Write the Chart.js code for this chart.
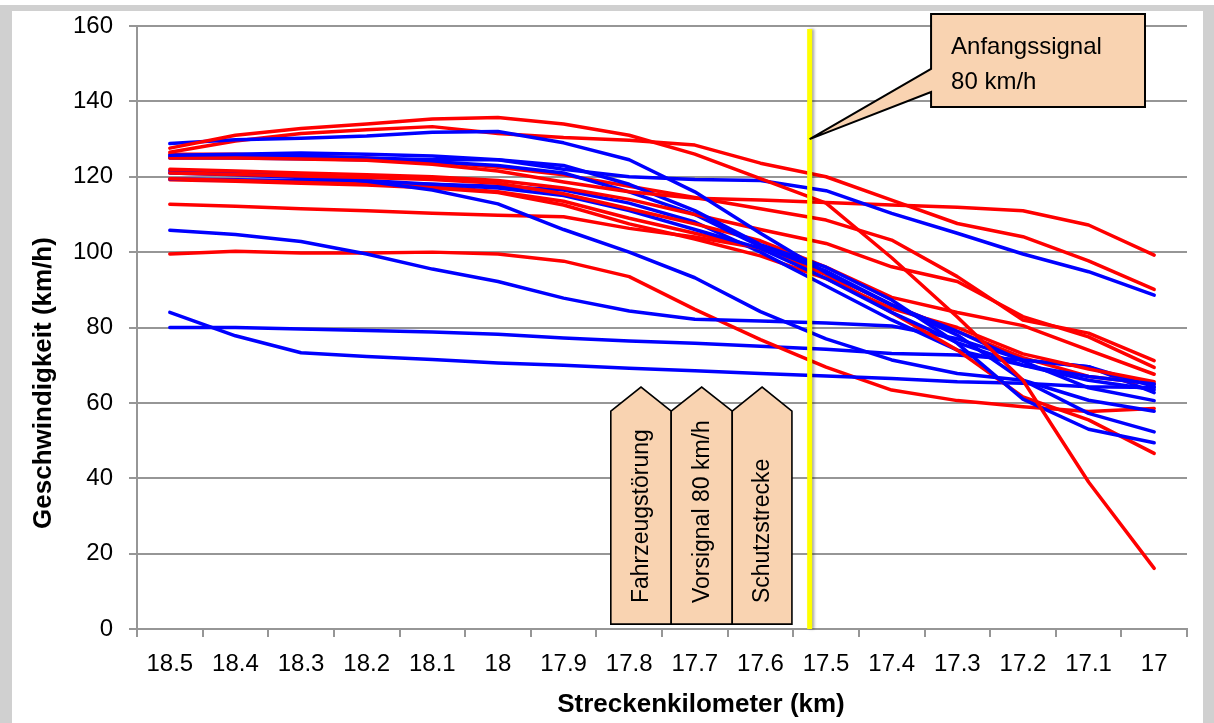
<!DOCTYPE html>
<html>
<head>
<meta charset="utf-8">
<title>Geschwindigkeitsverläufe</title>
<script src="https://cdn.jsdelivr.net/npm/chart.js@4.4.1/dist/chart.umd.min.js"></script>
<style>
  html, body { margin: 0; padding: 0; background: #ffffff; }
  canvas { display: block; }
</style>
</head>
<body>
<canvas id="chart" width="1214" height="723"></canvas>
<script>
// Streckenkilometer (categories)
const kmLabels = ['18.5', '18.4', '18.3', '18.2', '18.1', '18', '17.9', '17.8',
                  '17.7', '17.6', '17.5', '17.4', '17.3', '17.2', '17.1', '17'];

// Speed axis (km/h)
const speedMin = 0;
const speedMax = 160;
const speedStep = 20;

// Axis titles
const xTitle = 'Streckenkilometer (km)';
const yTitle = 'Geschwindigkeit (km/h)';

// Speed profiles, km/h per kilometre post – red runs
const red1  = [127.6, 131.0, 132.8, 134.0, 135.3, 135.7, 134.0, 131.0, 126.0, 119.5, 113.0, 98.5, 82.8, 66.0, 39.0, 16.1];
const red2  = [126.5, 129.5, 131.5, 132.5, 133.3, 131.5, 130.4, 129.7, 128.4, 123.6, 120.0, 113.8, 107.6, 104.1, 97.7, 90.1];
const red3  = [125.0, 125.0, 124.7, 124.4, 123.3, 121.5, 118.6, 116.0, 114.3, 113.8, 113.2, 112.5, 111.9, 111.0, 107.2, 99.2];
const red4  = [122.0, 121.5, 121.0, 120.5, 120.0, 119.0, 117.0, 114.0, 110.0, 106.0, 102.3, 96.1, 92.2, 82.9, 77.5, 69.4];
const red5  = [121.0, 120.6, 120.2, 119.8, 119.3, 118.3, 115.5, 111.5, 107.5, 103.0, 96.0, 88.0, 84.0, 80.5, 74.0, 67.6];
const red6  = [126.0, 126.0, 125.5, 125.0, 124.0, 122.5, 120.5, 117.5, 114.5, 111.5, 108.5, 103.2, 93.5, 82.0, 78.5, 71.2];
const red7  = [119.5, 119.0, 118.5, 118.0, 117.5, 116.0, 113.5, 109.0, 105.0, 101.0, 94.0, 84.0, 74.0, 61.6, 55.5, 46.6];
const red8  = [119.2, 118.8, 118.3, 117.8, 117.0, 115.8, 112.5, 107.5, 103.5, 99.0, 93.0, 85.0, 80.0, 73.0, 69.0, 65.6];
const red9  = [112.7, 112.2, 111.5, 111.0, 110.3, 109.8, 109.4, 106.3, 104.0, 101.0, 94.4, 86.0, 79.0, 72.0, 67.0, 65.0];
const red10 = [99.5, 100.2, 99.8, 99.8, 100.0, 99.5, 97.6, 93.5, 84.8, 76.8, 69.5, 63.4, 60.6, 59.0, 57.7, 58.5];

// Speed profiles – blue runs
const blue1  = [128.8, 129.8, 130.2, 130.8, 131.8, 132.0, 129.0, 124.5, 116.0, 105.0, 94.5, 86.0, 79.0, 71.0, 64.0, 60.6];
const blue2  = [125.7, 126.0, 126.3, 126.0, 125.5, 124.5, 122.0, 120.0, 119.3, 119.0, 116.3, 110.3, 105.0, 99.5, 94.8, 88.6];
const blue3  = [125.3, 125.5, 125.5, 125.0, 124.5, 124.5, 123.0, 118.0, 111.0, 102.0, 96.0, 87.3, 75.8, 61.0, 53.0, 49.4];
const blue4  = [125.0, 125.0, 124.8, 124.5, 124.0, 123.0, 121.0, 116.0, 110.0, 101.5, 95.0, 86.0, 78.0, 66.0, 57.2, 52.3];
const blue5  = [121.6, 121.0, 120.3, 118.8, 116.5, 112.8, 106.0, 100.0, 93.2, 84.2, 77.0, 71.4, 67.8, 66.0, 60.7, 57.8];
const blue6  = [121.0, 120.5, 119.8, 119.0, 118.0, 117.0, 115.0, 111.0, 106.0, 101.0, 93.0, 84.0, 76.0, 70.0, 66.0, 63.5];
const blue7  = [119.4, 119.2, 119.0, 118.5, 118.0, 117.5, 116.5, 113.0, 108.0, 100.0, 91.0, 82.0, 74.0, 70.0, 67.0, 65.0];
const blue8  = [105.8, 104.7, 102.8, 99.5, 95.5, 92.2, 87.8, 84.4, 82.2, 81.7, 81.2, 80.4, 77.0, 71.4, 69.6, 64.3];
const blue9  = [84.0, 77.8, 73.3, 72.3, 71.5, 70.6, 70.0, 69.2, 68.5, 67.8, 67.1, 66.5, 65.6, 65.2, 64.3, 64.1];
const blue10 = [80.0, 80.0, 79.6, 79.2, 78.8, 78.2, 77.2, 76.4, 75.8, 75.0, 74.2, 73.1, 72.7, 71.4, 69.6, 62.7];

const redRuns  = [red1, red2, red3, red4, red5, red6, red7, red8, red9, red10];
const blueRuns = [blue1, blue2, blue3, blue4, blue5, blue6, blue7, blue8, blue9, blue10];

// Track features (km positions and speed levels in km/h)
const signalKm = 17.525;                       // Anfangssignal 80 km/h
const signalTopKmh = 159.2;
const markerEdgesKm = [17.828, 17.736, 17.643, 17.552];
const markerTexts = ['Fahrzeugstörung', 'Vorsignal 80 km/h', 'Schutzstrecke'];
const markerBaseKmh = 1.3, markerShoulderKmh = 57.8, markerApexKmh = 64.2;
const calloutLines = ['Anfangssignal', '80 km/h'];
const calloutKm = [17.34, 17.014];             // left, right
const calloutKmh = [163.2, 138.5];             // top, bottom
const calloutPointerKmh = [148.6, 142.5, 130.0]; // base upper, base lower, tip

const FONT = "'Liberation Sans', Arial, Helvetica, sans-serif";
const PEACH = '#F9D3B1';
const GRID = '#969696';

function kmToIndex(km) { return (18.5 - km) / 0.1; }

const datasets = [];
for (let i = 0; i < 10; i++) {
  datasets.push({ label: 'rot ' + (i + 1), data: redRuns[i], borderColor: '#FF0000' });
  datasets.push({ label: 'blau ' + (i + 1), data: blueRuns[i], borderColor: '#0000FF' });
}
datasets.forEach(d => {
  d.borderWidth = 3.5;
  d.pointRadius = 0;
  d.fill = false;
  d.tension = 0;
  d.borderJoinStyle = 'round';
  d.borderCapStyle = 'round';
});

// Light grey frame round the whole picture
const framePlugin = {
  id: 'frame',
  beforeDraw(chart) {
    const { ctx, width, height } = chart;
    ctx.save();
    ctx.fillStyle = '#ffffff';
    ctx.fillRect(0, 0, width, height);
    ctx.fillStyle = '#D0D0D0';
    ctx.fillRect(0, 5, width, 6);
    ctx.fillRect(0, 5, 12, height - 5);
    ctx.fillRect(width - 11, 5, 11, height - 5);
    ctx.restore();
  }
};

// Axis titles, placed relative to the plot area
const titlePlugin = {
  id: 'axisTitles',
  afterDraw(chart) {
    const { ctx, chartArea } = chart;
    ctx.save();
    ctx.fillStyle = '#000000';
    ctx.font = 'bold 26px ' + FONT;
    ctx.textAlign = 'center';
    ctx.textBaseline = 'middle';
    ctx.fillText(xTitle, chartArea.left + 564, chartArea.bottom + 76);
    ctx.translate(44, chartArea.top + 357);
    ctx.rotate(-Math.PI / 2);
    ctx.fillText(yTitle, 0, 0);
    ctx.restore();
  }
};

// Signal line, callout and section markers
const trackPlugin = {
  id: 'track',
  afterDatasetsDraw(chart) {
    const { ctx } = chart;
    const xs = chart.scales.x, ys = chart.scales.y;
    const px = km => xs.getPixelForValue(kmToIndex(km));
    const py = v => ys.getPixelForValue(v);

    // section markers (upward arrows)
    ctx.save();
    ctx.lineWidth = 1.6;
    ctx.strokeStyle = '#000000';
    ctx.lineJoin = 'miter';
    for (let i = 0; i < markerTexts.length; i++) {
      const l = px(markerEdgesKm[i]), r = px(markerEdgesKm[i + 1]);
      const c = (l + r) / 2;
      const b = py(markerBaseKmh), s = py(markerShoulderKmh), a = py(markerApexKmh);
      ctx.beginPath();
      ctx.moveTo(l, b);
      ctx.lineTo(l, s);
      ctx.lineTo(c, a);
      ctx.lineTo(r, s);
      ctx.lineTo(r, b);
      ctx.closePath();
      ctx.fillStyle = PEACH;
      ctx.fill();
      ctx.stroke();
      ctx.save();
      ctx.translate(c, b - 21);
      ctx.rotate(-Math.PI / 2);
      ctx.fillStyle = '#000000';
      ctx.font = '23px ' + FONT;
      ctx.textAlign = 'left';
      ctx.textBaseline = 'middle';
      ctx.fillText(markerTexts[i], 0, 1);
      ctx.restore();
    }
    ctx.restore();

    // signal line
    ctx.save();
    const sx = px(signalKm);
    ctx.strokeStyle = '#FFFF00';
    ctx.lineWidth = 5;
    ctx.shadowColor = 'rgba(0,0,0,0.35)';
    ctx.shadowBlur = 3;
    ctx.shadowOffsetX = 2;
    ctx.beginPath();
    ctx.moveTo(sx, py(0));
    ctx.lineTo(sx, py(signalTopKmh));
    ctx.stroke();
    ctx.restore();

    // callout
    ctx.save();
    const L = px(calloutKm[0]), R = px(calloutKm[1]);
    const T = py(calloutKmh[0]), B = py(calloutKmh[1]);
    ctx.beginPath();
    ctx.moveTo(L, T);
    ctx.lineTo(R, T);
    ctx.lineTo(R, B);
    ctx.lineTo(L, B);
    ctx.lineTo(L, py(calloutPointerKmh[1]));
    ctx.lineTo(sx, py(calloutPointerKmh[2]));
    ctx.lineTo(L, py(calloutPointerKmh[0]));
    ctx.closePath();
    ctx.fillStyle = PEACH;
    ctx.fill();
    ctx.lineWidth = 2;
    ctx.strokeStyle = '#000000';
    ctx.lineJoin = 'miter';
    ctx.stroke();
    ctx.fillStyle = '#000000';
    ctx.font = '24px ' + FONT;
    ctx.textAlign = 'left';
    ctx.textBaseline = 'alphabetic';
    ctx.fillText(calloutLines[0], L + 20, T + 40);
    ctx.fillText(calloutLines[1], L + 20, T + 75);
    ctx.restore();
  }
};

new Chart(document.getElementById('chart'), {
  type: 'line',
  data: { labels: kmLabels, datasets },
  options: {
    responsive: false,
    animation: false,
    devicePixelRatio: 1,
    layout: { padding: { left: 0, right: 27, top: 26, bottom: 0 } },
    plugins: { legend: { display: false }, tooltip: { enabled: false } },
    scales: {
      x: {
        type: 'category',
        offset: true,
        grid: { display: true, drawOnChartArea: false, offset: true, color: GRID, lineWidth: 2, tickLength: 8 },
        border: { display: true, color: GRID, width: 2 },
        ticks: { color: '#000000', font: { family: FONT, size: 24 }, padding: 13, maxRotation: 0, autoSkip: false },
        afterFit(scale) {
          scale.height = 94;
          scale.paddingLeft = 0;
          scale.paddingRight = 0;
        }
      },
      y: {
        min: speedMin, max: speedMax,
        grid: { color: GRID, lineWidth: 2, tickLength: 8 },
        border: { display: true, color: GRID, width: 2 },
        ticks: { stepSize: speedStep, color: '#000000', font: { family: FONT, size: 24 }, padding: 16 },
        afterFit(scale) {
          scale.width = 137;
          scale.paddingTop = 0;
          scale.paddingBottom = 0;
        }
      }
    }
  },
  plugins: [framePlugin, trackPlugin, titlePlugin]
});
</script>
</body>
</html>
